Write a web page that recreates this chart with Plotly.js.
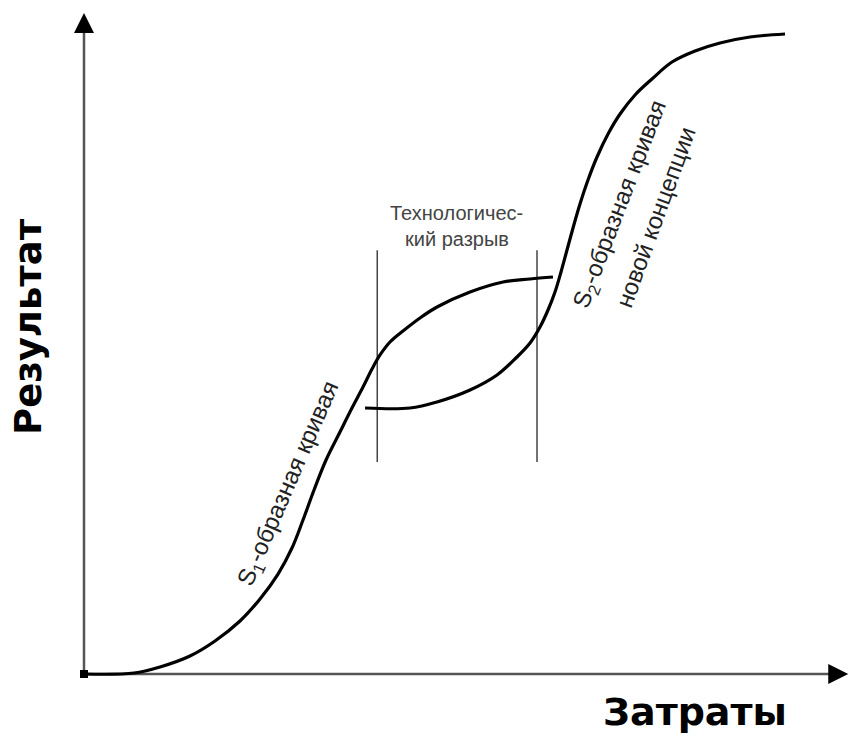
<!DOCTYPE html>
<html>
<head>
<meta charset="utf-8">
<script src="https://cdn.plot.ly/plotly-3.0.1.min.js"></script>
<style>html,body{margin:0;padding:0;background:#fff;}#chart{width:849px;height:737px;}</style>
</head>
<body>
<div id="chart"></div>
<script>
// S1 curve (old technology), arbitrary units: x = затраты, y = результат
const s1X = [0, 6.67, 10.13, 14.13, 17.47, 20.8, 23.47, 25.87, 27.73, 29.2, 30.67, 32.27, 34.13, 35.73, 37.2, 38.4, 39.47, 40.8, 42.53, 44.8, 47.07, 51.47, 55.87, 59.47, 62.53];
const s1Y = [0, 0.15, 1.08, 2.77, 5.08, 8.15, 11.54, 15.38, 19.38, 23.69, 28.31, 32.92, 37.23, 40.92, 44.15, 46.92, 49.08, 51.08, 52.77, 54.77, 56.46, 58.77, 60.31, 60.77, 61.08];
// S2 curve (new concept)
const s2X = [37.47, 43.47, 47.07, 51.47, 55.07, 57.73, 59.47, 60.8, 61.87, 62.8, 63.6, 64.4, 65.2, 66.13, 67.2, 68.4, 69.87, 71.47, 73.47, 75.73, 78.4, 81.47, 84.8, 88.8, 93.47];
const s2Y = [40.92, 40.92, 41.85, 43.69, 46.0, 48.77, 50.92, 53.38, 56.0, 58.77, 61.85, 65.23, 68.62, 72.31, 76.0, 79.54, 83.08, 86.15, 89.08, 91.54, 94.15, 95.85, 97.08, 98.0, 98.46];
// technological gap boundaries
const gapX = [39.1, 60.4];
const gapY = [32.6, 65.2];
// axes extents
const axisMaxX = 101.9;
const axisMaxY = 101.7;
// labels
const xTitle = "Затраты";
const yTitle = "Результат";
const gapLabel = ["Технологичес-", "кий разрыв"];
const s1Label = "S<sub>1</sub>-образная кривая";
const s2Label = ["S<sub>2</sub>-образная кривая", "новой концепции"];

const traces = [];
// axis lines
traces.push({x: [0, axisMaxX - 1], y: [0, 0], mode: 'lines', line: {color: '#555', width: 2.5}, hoverinfo: 'skip'});
traces.push({x: [0, 0], y: [0, axisMaxY - 1], mode: 'lines', line: {color: '#555', width: 2.5}, hoverinfo: 'skip'});
// gap lines
gapX.forEach(gx => traces.push({x: [gx, gx], y: gapY, mode: 'lines', line: {color: '#444', width: 1.5}, hoverinfo: 'skip'}));
// curves
traces.push({x: s1X, y: s1Y, mode: 'lines', line: {color: '#000', width: 3.2, shape: 'spline', smoothing: 1}, hoverinfo: 'skip'});
traces.push({x: s2X, y: s2Y, mode: 'lines', line: {color: '#000', width: 3.2, shape: 'spline', smoothing: 1}, hoverinfo: 'skip'});
// origin dot
traces.push({x: [0], y: [0], mode: 'markers', marker: {color: '#000', size: 8, symbol: 'square'}, hoverinfo: 'skip', cliponaxis: false});

const smallFont = {family: 'Liberation Sans, Arial, sans-serif', size: 24, color: '#222'};
const gapFont = {family: 'Liberation Sans, Arial, sans-serif', size: 20, color: '#444'};
const boldFont = {family: 'DejaVu Sans, sans-serif', color: '#000', weight: 'bold'};
const annotations = [
  // arrowheads
  {x: axisMaxX, y: 0, ax: axisMaxX - 1.6, ay: 0, xref: 'x', yref: 'y', axref: 'x', ayref: 'y', text: '', showarrow: true, arrowhead: 2, arrowsize: 1.6, arrowwidth: 2.5, arrowcolor: '#000', standoff: 0},
  {x: 0, y: axisMaxY, ax: 0, ay: axisMaxY - 1.8, xref: 'x', yref: 'y', axref: 'x', ayref: 'y', text: '', showarrow: true, arrowhead: 2, arrowsize: 1.6, arrowwidth: 2.5, arrowcolor: '#000', standoff: 0},
  // gap label
  {x: 49.7, y: 71.0, xref: 'x', yref: 'y', xanchor: 'center', yanchor: 'middle', text: gapLabel[0], showarrow: false, font: gapFont},
  {x: 49.7, y: 67.0, xref: 'x', yref: 'y', xanchor: 'center', yanchor: 'middle', text: gapLabel[1], showarrow: false, font: gapFont},
  // curve labels
  {x: 27.3, y: 29.2, xref: 'x', yref: 'y', xanchor: 'center', yanchor: 'middle', text: s1Label, showarrow: false, textangle: -66.6, font: smallFont},
  {x: 71.6, y: 72.2, xref: 'x', yref: 'y', xanchor: 'center', yanchor: 'middle', text: s2Label[0], showarrow: false, textangle: -69, font: smallFont},
  {x: 76.2, y: 70.2, xref: 'x', yref: 'y', xanchor: 'center', yanchor: 'middle', text: s2Label[1], showarrow: false, textangle: -70, font: smallFont},
  // axis titles
  {x: -0.0526, y: 0.534, xref: 'paper', yref: 'paper', xanchor: 'center', yanchor: 'middle', text: yTitle, showarrow: false, textangle: -90, font: Object.assign({size: 37}, boldFont)},
  {x: 0.8026, y: -0.037, xref: 'paper', yref: 'paper', xanchor: 'center', yanchor: 'middle', text: xTitle, showarrow: false, font: Object.assign({size: 38}, boldFont)}
];

const hiddenAxis = {visible: false, showgrid: false, zeroline: false, fixedrange: true};
const layout = {
  width: 849, height: 737,
  margin: {l: 69, r: 0, t: 11, b: 50},
  paper_bgcolor: '#fff', plot_bgcolor: '#fff',
  showlegend: false,
  xaxis: Object.assign({range: [-2, 102]}, hiddenAxis),
  yaxis: Object.assign({range: [-2, 102]}, hiddenAxis),
  annotations: annotations
};
Plotly.newPlot('chart', traces, layout, {staticPlot: true, displayModeBar: false});
</script>
</body>
</html>
